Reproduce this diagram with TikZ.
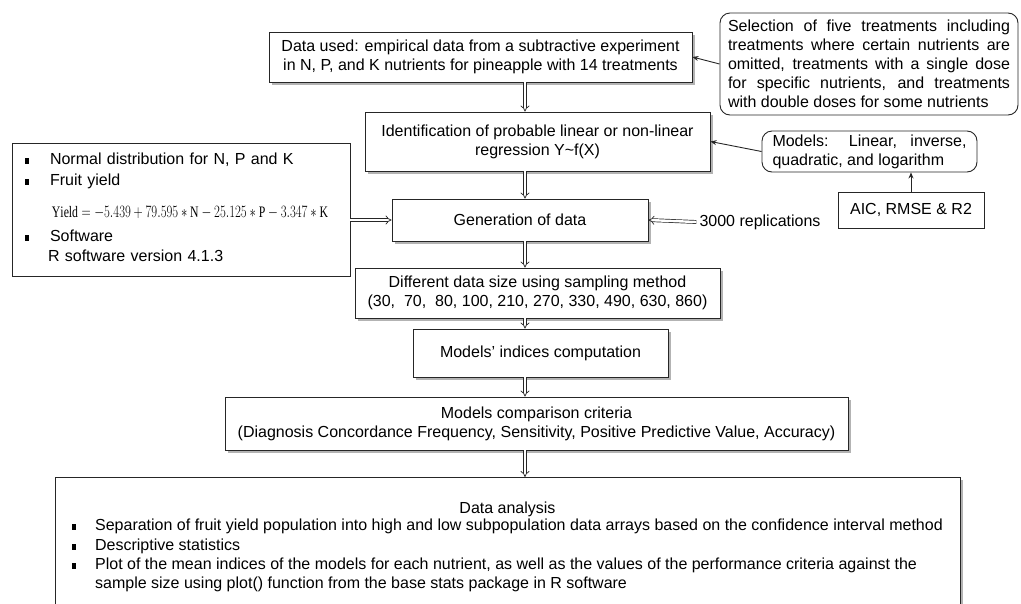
\documentclass[tikz,border=0pt]{standalone}
\usepackage{fontspec}
\setmainfont{Liberation Sans}
\setmathrm{Liberation Serif}
\usepackage{graphicx}
\usetikzlibrary{arrows.meta, positioning, shadows, calc}

\begin{document}
\begin{tikzpicture}[x=1pt,y=-1pt,
  font=\fontsize{16}{19}\selectfont,
  box/.style={draw=black!85, fill=white, line width=0.9pt, align=center, inner sep=3pt},
  shbox/.style={box, drop shadow={shadow xshift=2.5pt, shadow yshift=-2.5pt, fill=black!50, opacity=0.6}},
  rbox/.style={box, rounded corners=10pt, align=left},
  flow/.style={draw=black!85, line width=0.7pt, double=white, double distance=2.4pt, -{Implies}},
  link/.style={draw=black!85, line width=0.9pt, -{Stealth[length=6pt, width=5pt]}}]
  \def\sqb{\rule[1pt]{4pt}{5.5pt}}
  \def\jline#1#2{\makebox[#1pt][s]{#2}}
  \useasboundingbox (0,0) rectangle (1021,603);
  \node[shbox, minimum width=423, minimum height=50] (data) at (480.5,57)
    {Data used: empirical data from a subtractive experiment\\in N, P, and K nutrients for pineapple with 14 treatments};
  \node[rbox, minimum width=298, minimum height=102] (sel) at (869,64)
    {\jline{282}{Selection of five treatments including}\\
     \jline{282}{treatments where certain nutrients are}\\
     \jline{282}{omitted, treatments with a single dose}\\
     \jline{282}{for specific nutrients, and treatments}\\
     with double doses for some nutrients};
  \node[shbox, minimum width=345, minimum height=59] (ident) at (537.5,141.5)
    {Identification of probable linear or non-linear\\regression Y\textasciitilde f(X)};
  \node[rbox, minimum width=215, minimum height=41] (models) at (869.5,151.5)
    {\jline{194}{Models: Linear, inverse,}\\quadratic, and logarithm};
  \node[box, minimum width=146, minimum height=36] (aic) at (911,210) {AIC, RMSE \& R2};
  \node[box, minimum height=133, text width=312pt, inner xsep=13pt, align=left] (inputs) at (181,209.5)
    {\begin{tabular}{@{}p{25pt}@{}l@{}}
      \sqb & Normal distribution for N, P and K\\[2pt]
      \sqb & Fruit yield\\[13pt]
      \multicolumn{2}{@{}l}{\hspace{27pt}\resizebox{276pt}{\height}{$\mathrm{Yield}=-5.439+79.595\ast\mathrm{N}-25.125\ast\mathrm{P}-3.347\ast\mathrm{K}$}}\\[5pt]
      \sqb & Software\\[1pt]
      & \hspace{-2pt}R software version 4.1.3
    \end{tabular}};
  \node[shbox, minimum width=256, minimum height=42] (gen) at (520,220) {Generation of data};
  \node[inner sep=3pt] (rep) at (760,222) {3000 replications};
  \node[shbox, minimum width=365, minimum height=50] (sizes) at (537.5,293)
    {Different data size using sampling method\\(30,~ 70,~ 80, 100, 210, 270, 330, 490, 630, 860)};
  \node[shbox, minimum width=255, minimum height=48] (indices) at (540.5,353) {Models' indices computation};
  \node[shbox, minimum width=623, minimum height=53] (criteria) at (536.5,423.5)
    {Models comparison criteria\\(Diagnosis Concordance Frequency, Sensitivity, Positive Predictive Value, Accuracy)};
  \node[shbox, anchor=north, minimum width=905, minimum height=140] (analysis) at (507.5,477)
    {\begin{tabular}{@{}p{23pt}@{}l@{}}
      \multicolumn{2}{c}{Data analysis}\\[-2pt]
      \sqb & Separation of fruit yield population into high and low subpopulation data arrays based on the confidence interval method\\[1pt]
      \sqb & Descriptive statistics\\
      \sqb & Plot of the mean indices of the models for each nutrient, as well as the values of the performance criteria against the\\
      & sample size using plot() function from the base stats package in R software
    \end{tabular}};
  \coordinate (ax) at (525,0);
  \draw[flow] (data.south -| ax) -- (ident.north -| ax);
  \draw[flow] (ident.south -| ax) -- (gen.north -| ax);
  \draw[flow] (gen.south -| ax) -- (sizes.north -| ax);
  \draw[flow] (sizes.south -| ax) -- (indices.north -| ax);
  \draw[flow] (indices.south -| ax) -- (criteria.north -| ax);
  \draw[flow] (criteria.south -| ax) -- (analysis.north -| ax);
  \draw[flow] (inputs.east |- gen.west) -- (gen.west);
  \draw[flow] (rep.west) -- (gen.east);
  \draw[link] (sel.west) -- (data.east);
  \draw[link] (models.west) -- (ident.east);
  \draw[link] (aic.north) -- (aic.north |- models.south);
\end{tikzpicture}
\end{document}
